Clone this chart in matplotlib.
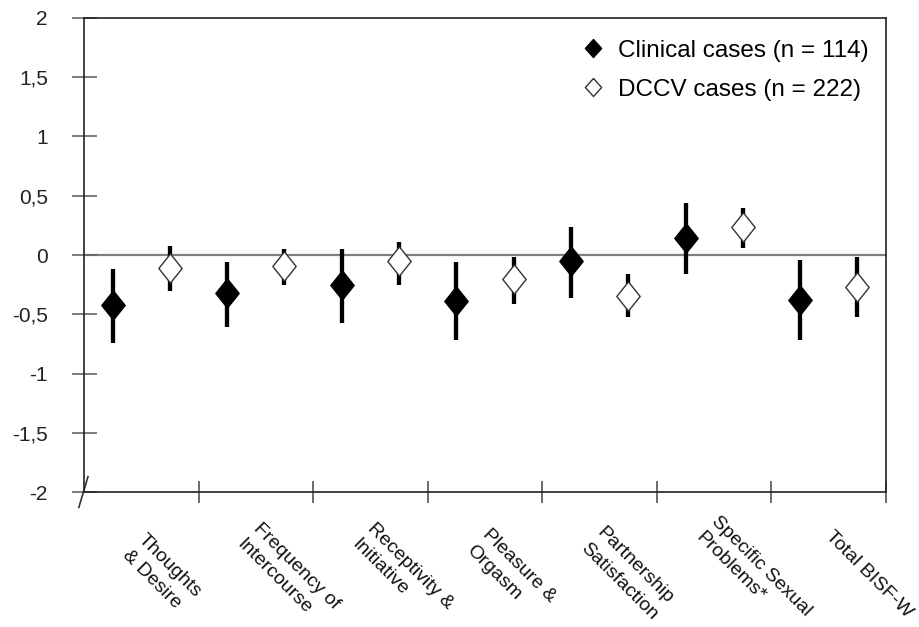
import matplotlib
matplotlib.use("Agg")
from matplotlib import pyplot as plt
from matplotlib.lines import Line2D

categories = ["Thoughts\n& Desire", "Frequency of\nIntercourse", "Receptivity &\nInitiative",
              "Pleasure &\nOrgasm", "Partnership\nSatisfaction", "Specific Sexual\nProblems*",
              "Total BISF-W"]

clinical_mean = [-0.42, -0.32, -0.25, -0.39, -0.05, 0.14, -0.38]
clinical_low = [-0.74, -0.61, -0.57, -0.72, -0.36, -0.16, -0.72]
clinical_high = [-0.12, -0.06, 0.05, -0.06, 0.24, 0.44, -0.04]

dccv_mean = [-0.11, -0.09, -0.05, -0.20, -0.35, 0.24, -0.27]
dccv_low = [-0.30, -0.25, -0.25, -0.41, -0.52, 0.06, -0.52]
dccv_high = [0.08, 0.05, 0.11, -0.02, -0.16, 0.40, -0.02]

yticks = [-2, -1.5, -1, -0.5, 0, 0.5, 1, 1.5, 2]
ytick_labels = ["-2", "-1,5", "-1", "-0,5", "0", "0,5", "1", "1,5", "2"]

plt.rcParams['font.family'] = ['Liberation Sans', 'DejaVu Sans']

# tall diamond, a bit narrower than high
diamond = [(0, 1), (0.8, 0), (0, -1), (-0.8, 0), (0, 1)]
diamond_leg = [(0, 1), (0.9, 0), (0, -1), (-0.9, 0), (0, 1)]


def main():
    fig = plt.figure(figsize=(9.19, 6.27), dpi=100)
    ax = fig.add_axes([0.0914, 0.2153, 0.8727, 0.756])

    n = len(categories)
    x_clin = [i + 0.25 for i in range(n)]
    x_dccv = [i + 0.75 for i in range(n)]

    ax.axhline(0, color='#808080', lw=1.6, zorder=1)

    clin_err = [[m - lo for m, lo in zip(clinical_mean, clinical_low)],
                [hi - m for m, hi in zip(clinical_mean, clinical_high)]]
    dccv_err = [[m - lo for m, lo in zip(dccv_mean, dccv_low)],
                [hi - m for m, hi in zip(dccv_mean, dccv_high)]]

    ax.errorbar(x_clin, clinical_mean, yerr=clin_err, fmt='none', ecolor='black',
                elinewidth=3.1, capsize=0, zorder=2)
    ax.errorbar(x_dccv, dccv_mean, yerr=dccv_err, fmt='none', ecolor='black',
                elinewidth=3.1, capsize=0, zorder=2)

    ax.plot(x_clin, clinical_mean, ls='none', marker=diamond, ms=21, mfc='black',
            mec='black', mew=1, zorder=3)
    ax.plot(x_dccv, dccv_mean, ls='none', marker=diamond, ms=21, mfc='white',
            mec='#333333', mew=1, zorder=3)

    ax.set_xlim(0, n)
    ax.set_ylim(-2, 2)
    ax.set_yticks(yticks)
    ax.set_yticklabels(ytick_labels, fontsize=15, color='#222222')
    ax.tick_params(axis='y', direction='inout', length=18, width=1.2,
                   color='#666666', pad=17)

    ax.set_xticks(range(n + 1))
    ax.set_xticklabels([])
    ax.tick_params(axis='x', direction='inout', length=16, width=1.2,
                   color='#555555')
    ax.xaxis.get_major_ticks()[0].tick1line.set_visible(False)

    texts = []
    for i, name in enumerate(categories):
        t = ax.text(i + 0.55, -2.3, name, rotation=-45, rotation_mode='anchor',
                    ha='left', va='top', fontsize=14, color='#111111',
                    linespacing=1.4, clip_on=False)
        texts.append(t)

    # little slanted break mark at the bottom-left corner
    ax.add_line(Line2D([-0.045, 0.035], [-2.13, -1.87], color='#333333', lw=1.2,
                       clip_on=False))

    for s in ax.spines.values():
        s.set_color('#222222')
        s.set_linewidth(1.2)

    handles = [Line2D([], [], ls='none', marker=diamond_leg, ms=13, mfc='black', mec='black'),
               Line2D([], [], ls='none', marker=diamond_leg, ms=13, mfc='white', mec='#333333')]
    ax.legend(handles, ['Clinical cases (n = 114)', 'DCCV cases (n = 222)'],
              loc='upper right', bbox_to_anchor=(1.005, 1.0), frameon=False,
              fontsize=17.5, handletextpad=0.5, labelspacing=0.7, handlelength=1.0)

    # like the original, the rotated labels sit with their box centres on one line
    fig.canvas.draw()
    renderer = fig.canvas.get_renderer()
    target = fig.bbox.height - 574
    for t in texts:
        bb = t.get_window_extent(renderer)
        shift = target - (bb.y0 + bb.y1) / 2
        px, py = ax.transData.transform(t.get_position())
        t.set_position(ax.transData.inverted().transform((px, py + shift)))

    fig.savefig('out.png', dpi=100)


if __name__ == "__main__":
    main()
